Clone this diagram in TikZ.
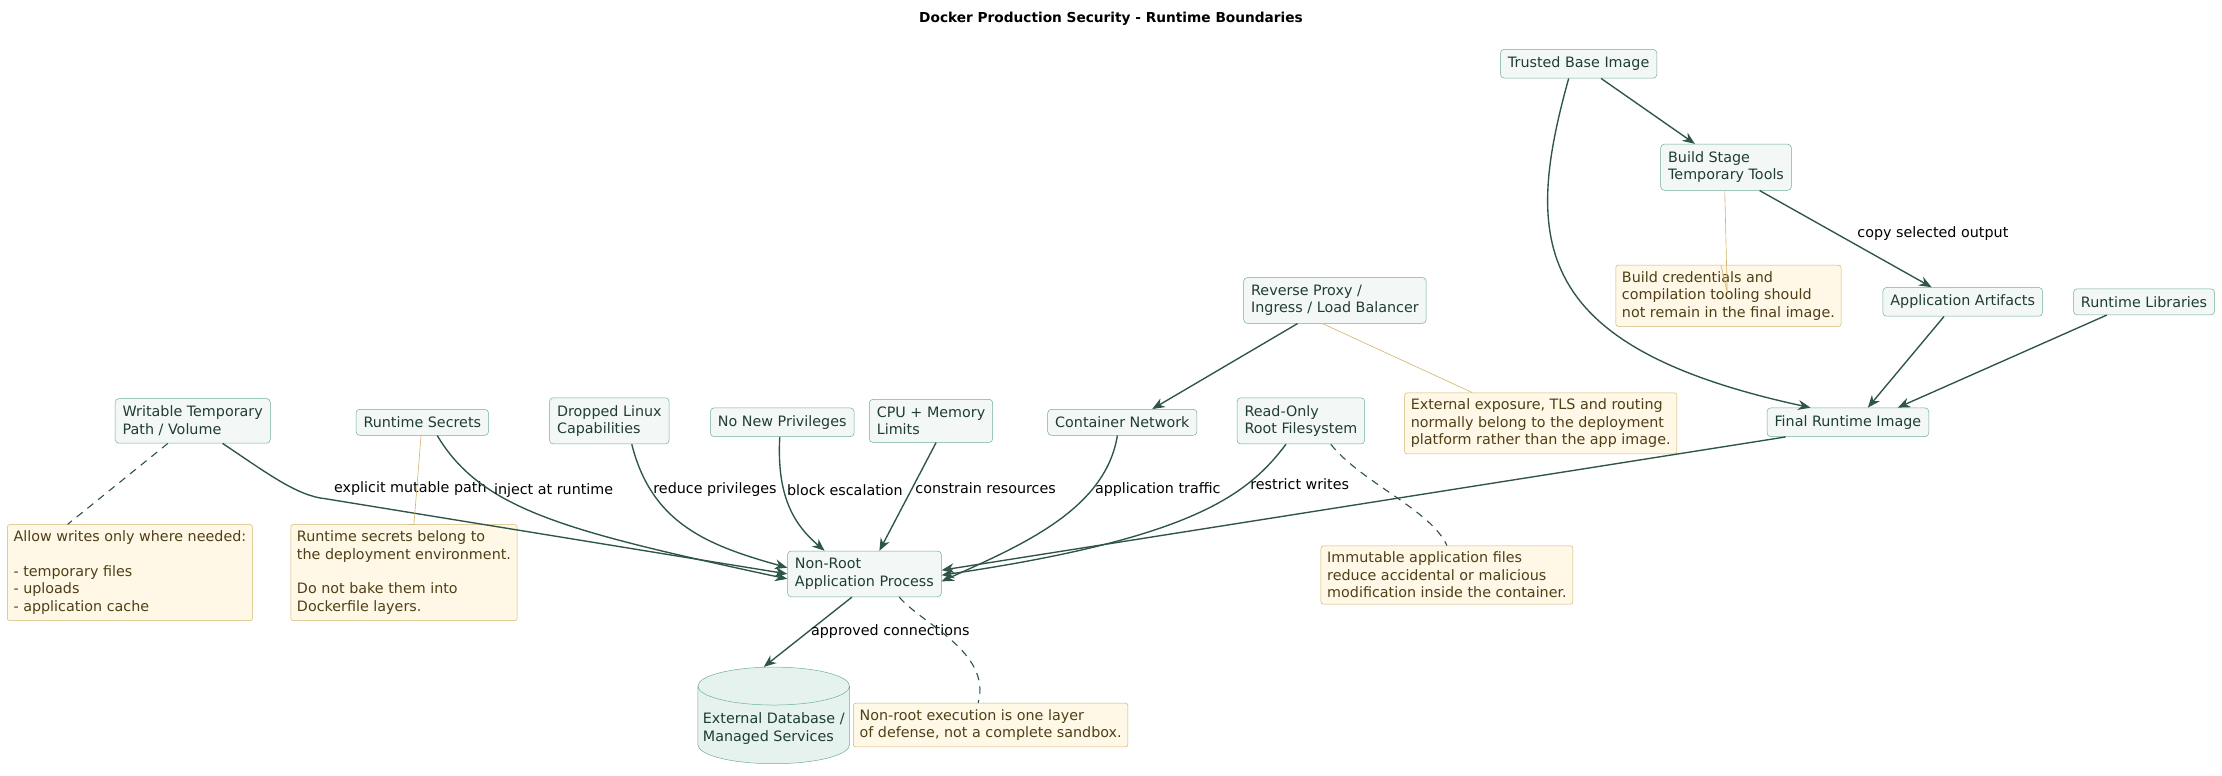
\documentclass[tikz,border=0pt]{standalone}
\usepackage{fontspec}
\setmainfont{DejaVu Sans}
\usetikzlibrary{arrows.meta,shapes.geometric,shapes.misc}
\definecolor{nodefill}{HTML}{F3F8F6}
\definecolor{nodeline}{HTML}{6FAE96}
\definecolor{nodetext}{HTML}{1F3D33}
\definecolor{arrowcol}{HTML}{2E5548}
\definecolor{notefill}{HTML}{FFF8E7}
\definecolor{noteline}{HTML}{D2B46E}
\definecolor{notetext}{HTML}{4E3F16}
\definecolor{dbfill}{HTML}{E6F2EE}
\tikzset{
  box/.style={draw=nodeline, fill=nodefill, text=nodetext, rounded corners=3pt,
    align=left, inner sep=6pt, font=\fontsize{11.5}{14}\selectfont},
  note/.style={draw=noteline, fill=notefill, text=notetext, rounded corners=2pt,
    align=left, inner sep=5pt, font=\fontsize{11.5}{14}\selectfont},
  flow/.style={draw=arrowcol, line width=1.1pt, -{Stealth[length=10pt,width=8pt]}},
  lab/.style={font=\fontsize{11.5}{14}\selectfont, text=black, inner sep=2pt},
  tie/.style={draw=noteline, line width=0.5pt},
  dashtie/.style={draw=arrowcol, line width=0.9pt, dash pattern=on 6pt off 5pt}
}
\begin{document}
\begin{tikzpicture}[x=0.4mm,y=-0.4mm]
\useasboundingbox (0,0) rectangle (1568,547);
\node[font=\bfseries\fontsize{11}{13}\selectfont] (title) at (784,13) {Docker Production Security - Runtime Boundaries};

\node[box] (TB) at (1114,45) {Trusted Base Image};
\node[box] (BS) at (1218,118) {Build Stage\\Temporary Tools};
\node[box] (AA) at (1385,213) {Application Artifacts};
\node[box] (RL) at (1513,213) {Runtime Libraries};
\node[box] (FR) at (1304,298) {Final Runtime Image};
\node[box] (RP) at (942,212) {Reverse Proxy /\\Ingress / Load Balancer};
\node[box] (CN) at (792,298) {Container Network};
\node[box] (RO) at (918,297) {Read-Only\\Root Filesystem};
\node[box] (CM) at (657,297) {CPU + Memory\\Limits};
\node[box] (NP) at (552,298) {No New Privileges};
\node[box] (DC) at (430,297) {Dropped Linux\\Capabilities};
\node[box] (RS) at (298,298) {Runtime Secrets};
\node[box] (WT) at (136,297) {Writable Temporary\\Path / Volume};
\node[box] (NR) at (610,405) {Non-Root\\Application Process};
\node[box, cylinder, shape border rotate=90, aspect=0.25, rounded corners=0pt, fill=dbfill,
  inner xsep=4pt, minimum height=48*0.4mm] (DB) at (546,514) {External Database /\\Managed Services};

\node[note, anchor=north west] (N1) at (1140,187) {Build credentials and\\compilation tooling should\\not remain in the final image.};
\node[note, anchor=north west] (N2) at (991,277) {External exposure, TLS and routing\\normally belong to the deployment\\platform rather than the app image.};
\node[note, anchor=north west] (N3) at (932,385) {Immutable application files\\reduce accidental or malicious\\modification inside the container.};
\node[note, anchor=north west] (N4) at (5,370) {Allow writes only where needed:\\[14pt]- temporary files\\- uploads\\- application cache};
\node[note, anchor=north west] (N5) at (205,370) {Runtime secrets belong to\\the deployment environment.\\[14pt]Do not bake them into\\Dockerfile layers.};
\node[note, anchor=north west] (N6) at (602,496) {Non-root execution is one layer\\of defense, not a complete sandbox.};

\draw[flow] ([xshift=-8]TB.south) .. controls (1075,170) and (1080,245) .. ([xshift=-30]FR.north);
\draw[flow] ([xshift=18]TB.south) -- ([xshift=-25]BS.north);
\draw[flow] ([xshift=27]BS.south) -- node[lab, above right, pos=0.55] {copy selected output} ([xshift=-25]AA.north);
\draw[flow] ([xshift=-15]AA.south) -- ([xshift=16]FR.north);
\draw[flow] ([xshift=-30]RL.south) -- ([xshift=40]FR.north);
\draw[flow] ([xshift=-30]RP.south) -- ([xshift=24]CN.north);

\draw[flow] ([xshift=24]WT.south) .. controls (190,335) and (210,350) .. (230,352) -- node[lab, anchor=south west, pos=0, xshift=4pt] {explicit mutable path} (NR.west);
\draw[flow] ([xshift=12]RS.south) .. controls (340,360) and (400,375) .. node[lab, anchor=west, pos=0.3] {inject at runtime} ([yshift=-4]NR.west);
\draw[flow] ([xshift=18]DC.south) .. controls (460,370) and (500,385) .. node[lab, anchor=west, pos=0.22] {reduce privileges} ([yshift=5]NR.west);
\draw[flow] ([xshift=-2]NP.south) .. controls (548,350) and (560,370) .. node[lab, anchor=west, pos=0.36] {block escalation} ([xshift=-32]NR.north);
\draw[flow] ([xshift=4]CM.south) -- node[lab, anchor=west, pos=0.42] {constrain resources} ([xshift=12]NR.north);
\draw[flow] ([xshift=-4]CN.south) .. controls (780,360) and (720,385) .. node[lab, anchor=west, pos=0.28] {application traffic} ([yshift=-6]NR.east);
\draw[flow] ([xshift=-12]RO.south) .. controls (880,350) and (840,380) .. node[lab, anchor=west, pos=0.27] {restrict writes} ([yshift=-1]NR.east);
\draw[flow] ([xshift=-50]FR.south) -- ([yshift=3]NR.east);
\draw[flow] ([xshift=-10]NR.south) -- node[lab, right, pos=0.5] {approved connections} ([xshift=-8]DB.north);

\draw[dashtie] ([xshift=-20]WT.south) -- ([xshift=-50]N4.north);
\draw[tie] ([xshift=-1]RS.south) -- ([xshift=8]N5.north) -- ([xshift=4]N5.north);
\draw[tie] ([xshift=-1]BS.south) -- ([xshift=-1,yshift=-22]N1.north) -- ([xshift=-6]N1.north);
\draw[tie] ([xshift=-10]RP.south) -- ([xshift=-55]N2.north);
\draw[dashtie] ([xshift=24]RO.south) .. controls (960,340) and (1010,360) .. (N3.north);
\draw[dashtie] ([xshift=28]NR.south) .. controls (650,440) and (700,460) .. ([xshift=-10]N6.north);
\end{tikzpicture}
\end{document}
